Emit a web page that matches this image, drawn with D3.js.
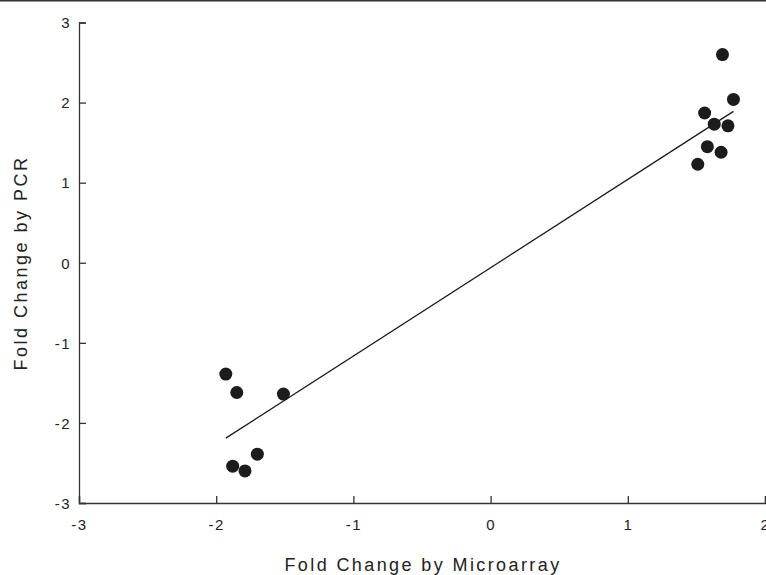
<!DOCTYPE html>
<html>
<head>
<meta charset="utf-8">
<script src="https://cdn.jsdelivr.net/npm/d3@7"></script>
<style>
  body { margin: 0; background: #fff; }
  svg { display: block; font-family: "Liberation Sans", Arial, sans-serif; }
</style>
</head>
<body>
<div id="canvas"></div>
<script>
// values
var microarray = [-1.93, -1.85, -1.51, -1.70, -1.88, -1.79,
                  1.69, 1.77, 1.56, 1.63, 1.73, 1.58, 1.68, 1.51];
var pcr = [-1.39, -1.62, -1.64, -2.39, -2.54, -2.60,
           2.60, 2.04, 1.87, 1.73, 1.71, 1.45, 1.38, 1.23];
var fitX = [-1.93, 1.77];
var fitY = [-2.19, 1.89];
var xTicks = [-3, -2, -1, 0, 1, 2];
var yTicks = [-3, -2, -1, 0, 1, 2, 3];

var width = 766, height = 575;
var svg = d3.select("#canvas").append("svg")
  .attr("width", width)
  .attr("height", height);

var x = d3.scaleLinear().domain([-3, 2]).range([79, 765]);
var y = d3.scaleLinear().domain([-3, 3]).range([503, 22.5]);

// top border
svg.append("line")
  .attr("x1", 0).attr("x2", width)
  .attr("y1", 0.75).attr("y2", 0.75)
  .attr("stroke", "#333").attr("stroke-width", 1.5);

var xAxis = svg.append("g")
  .attr("transform", "translate(0," + y(-3) + ")")
  .call(d3.axisBottom(x).tickValues(xTicks).tickSize(-7).tickPadding(15).tickFormat(d3.format("d")));
var yAxis = svg.append("g")
  .attr("transform", "translate(" + x(-3) + ",0)")
  .call(d3.axisLeft(y).tickValues(yTicks).tickSize(-7).tickPadding(15).tickFormat(d3.format("d")));

[xAxis, yAxis].forEach(function(a){
  a.select(".domain").attr("stroke", "#333").attr("stroke-width", 1.3);
  a.selectAll(".tick line").attr("stroke", "#333").attr("stroke-width", 1.3);
  a.selectAll(".tick text")
    .attr("fill", "#222")
    .style("font-size", "15px")
    .style("letter-spacing", "1.5px")
    .style("font-family", "'Liberation Sans', Arial, sans-serif")
    .text(function(d){ return d < 0 ? "-" + Math.abs(d) : d; });
});
yAxis.selectAll(".tick text").attr("x", -8).attr("dy", "0.35em");
xAxis.selectAll(".tick text").attr("y", 16);

// regression line
svg.append("line")
  .attr("x1", x(fitX[0])).attr("y1", y(fitY[0]))
  .attr("x2", x(fitX[1])).attr("y2", y(fitY[1]))
  .attr("stroke", "#1a1a1a").attr("stroke-width", 1.3);

svg.selectAll("circle.pt")
  .data(microarray)
  .enter().append("circle")
  .attr("class", "pt")
  .attr("cx", function(d){ return x(d); })
  .attr("cy", function(d, i){ return y(pcr[i]); })
  .attr("r", 6.5)
  .attr("fill", "#1c1c1c");

svg.append("text")
  .attr("x", 423).attr("y", 571)
  .attr("text-anchor", "middle")
  .attr("fill", "#222")
  .style("font-size", "18px")
  .style("letter-spacing", "2.4px")
  .text("Fold Change by Microarray");

svg.append("text")
  .attr("transform", "translate(27,263) rotate(-90)")
  .attr("text-anchor", "middle")
  .attr("fill", "#222")
  .style("font-size", "18px")
  .style("letter-spacing", "2.5px")
  .text("Fold Change by PCR");
</script>
</body>
</html>
